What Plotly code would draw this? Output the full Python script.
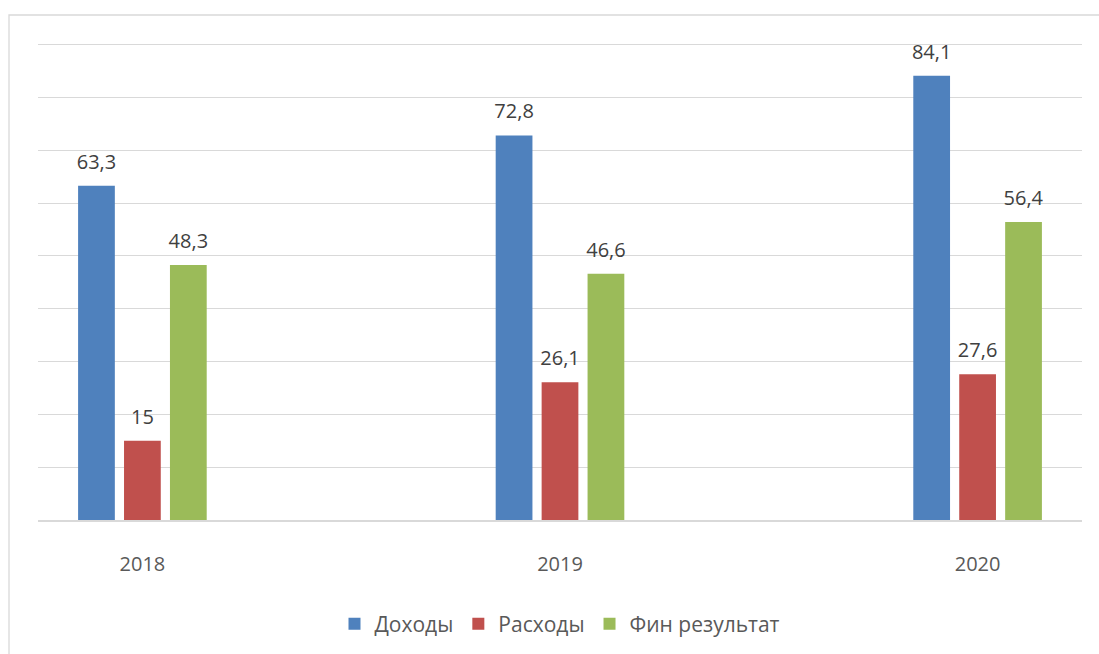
import plotly.graph_objects as go

years = ["2018", "2019", "2020"]
series_names = ["Доходы", "Расходы", "Фин результат"]
dohody = [63.3, 72.8, 84.1]
rashody = [15, 26.1, 27.6]
fin_result = [48.3, 46.6, 56.4]
colors = ["#4F81BD", "#C0504D", "#9BBB59"]

FONT = "Open Sans, sans-serif"

def fmt(v):
    return ("%g" % v).replace(".", ",")

def label(v):
    # number on the first line, a tiny spacer line below to lift it off the bar
    return ("<span style='font-size:20px'>" + fmt(v) + "</span>"
            "<br><span style='font-size:2px'>&nbsp;</span>")

W, H = 1099, 654
ml, mr, mt, mb = 38, 17, 42, 134
pw = W - ml - mr
ph = H - mt - mb

fig = go.Figure()
all_series = [dohody, rashody, fin_result]
for name, vals, col in zip(series_names, all_series, colors):
    fig.add_trace(go.Bar(
        x=years, y=vals, name=name,
        marker=dict(color=col, line=dict(width=0)),
        text=[label(v) for v in vals],
        texttemplate="%{text}",
        textposition="outside",
        constraintext="none",
        cliponaxis=False,
        textfont=dict(family=FONT, size=10, color="#404040"),
        hoverinfo="skip",
    ))

# outer border of the chart area
fig.add_shape(
    type="rect", xref="paper", yref="paper",
    x0=(9 - ml) / pw, x1=(1120 - ml) / pw,
    y0=-(H + 20 - mt - ph) / ph, y1=(mt + ph - 15) / ph,
    line=dict(color="#D9D9D9", width=1.3), fillcolor="rgba(0,0,0,0)",
)

fig.update_layout(
    width=W, height=H,
    margin=dict(l=ml, r=mr, t=mt, b=mb, autoexpand=False),
    paper_bgcolor="white", plot_bgcolor="white",
    barmode="group", bargap=0.67, bargroupgap=0.2,
    separators=", ",
    showlegend=True,
    legend=dict(
        orientation="h", x=0.5, xanchor="center", y=-0.175, yanchor="top",
        font=dict(family=FONT, size=21, color="#595959"),
        itemwidth=30,
    ),
    xaxis=dict(
        type="category", range=[-0.25, 2.25],
        showgrid=False, showline=True, linecolor="#D9D9D9", linewidth=2,
        ticks="", ticklabelstandoff=25,
        tickfont=dict(family=FONT, size=20, color="#595959"),
        fixedrange=True,
    ),
    yaxis=dict(
        range=[0, 90.5], dtick=10, showticklabels=False,
        showgrid=True, gridcolor="#D9D9D9", gridwidth=1.3,
        zeroline=False, showline=False, fixedrange=True,
    ),
)

fig.write_html("out.html", config={"displayModeBar": False},
               post_script="document.body.style.margin='0';")
